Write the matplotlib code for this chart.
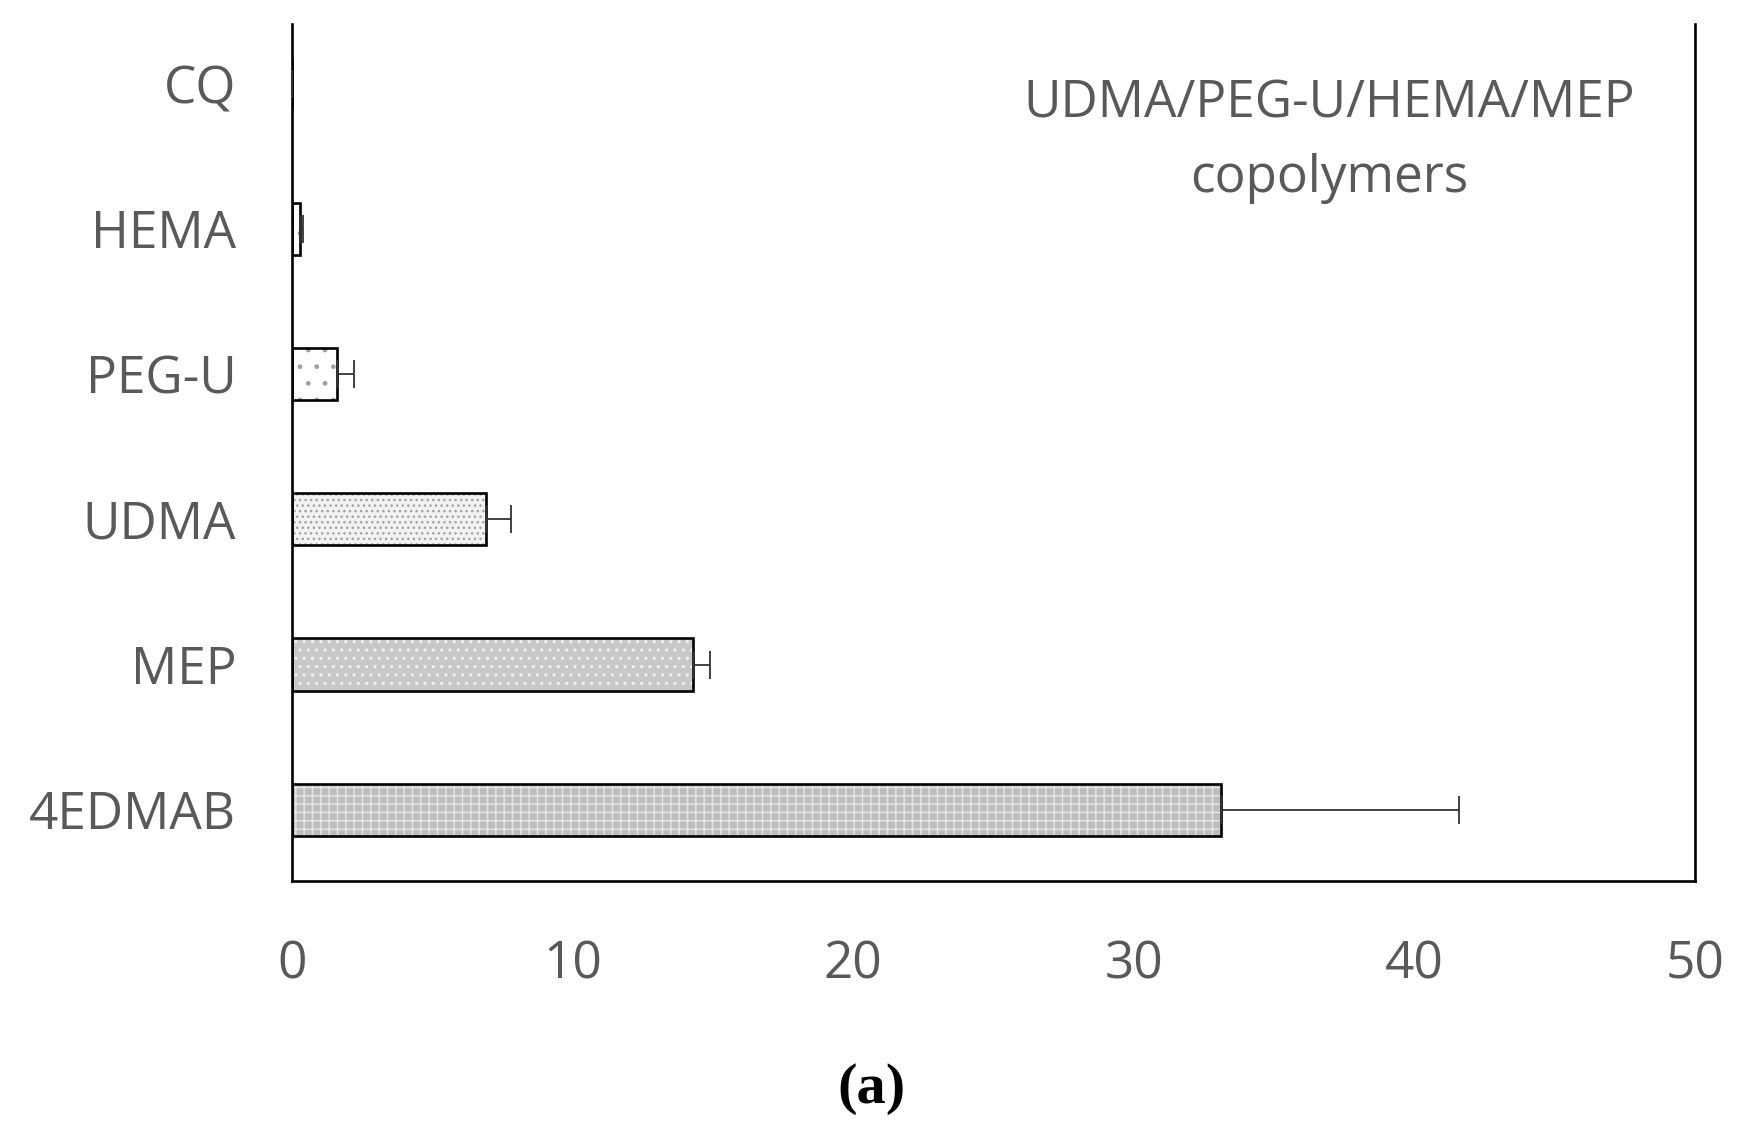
import matplotlib
matplotlib.use('Agg')
import matplotlib.pyplot as plt

# Data (top to bottom in the chart)
categories = ['CQ', 'HEMA', 'PEG-U', 'UDMA', 'MEP', '4EDMAB']
values = [0.0, 0.28, 1.6, 6.9, 14.3, 33.1]
errors = [0.0, 0.1, 0.6, 0.9, 0.6, 8.5]
x_ticks = [0, 10, 20, 30, 40, 50]

# Bar fills and hatch styles (Excel-like dotted patterns)
fills = ['white', 'white', 'white', '#f2f2f2', '#c8c8c8', '#bdbdbd']
hatch_colors = ['#9a9a9a', '#9a9a9a', '#a0a0a0', '#a0a0a0', '#f4f4f4', '#e6e6e6']
hatches = ['', '.', '.', '...', '..', '++']

plt.rcParams['hatch.linewidth'] = 1.0

fig = plt.figure(figsize=(17.47, 11.41), dpi=100)
ax = fig.add_axes([0.1671, 0.2279, 0.8031, 0.7511])

ypos = list(range(len(categories) - 1, -1, -1))

# patterned fill
ax.barh(ypos, values, height=0.36, color=fills, edgecolor=hatch_colors,
        hatch=hatches, linewidth=0, zorder=2)
# black outline
ax.barh(ypos, values, height=0.36, fill=False, edgecolor='black',
        linewidth=1.9, zorder=3)
# plus-only error bars
ax.errorbar(values, ypos, xerr=[[0] * len(errors), errors], fmt='none',
            ecolor='#333333', elinewidth=1.3, capsize=10, capthick=1.3, zorder=4)

ax.set_xlim(0, 50)
ax.set_ylim(-0.49, 5.41)
ax.set_xticks(x_ticks)
ax.set_yticks(ypos)
ax.set_yticklabels(categories)

for side in ['left', 'right', 'bottom']:
    ax.spines[side].set_linewidth(1.9)
    ax.spines[side].set_color('black')
ax.spines['top'].set_visible(False)

ax.tick_params(axis='both', length=0, labelsize=37, labelcolor='#595959')
ax.tick_params(axis='x', pad=42)
ax.tick_params(axis='y', pad=40)
for lbl in ax.get_xticklabels() + ax.get_yticklabels():
    lbl.set_fontfamily('Open Sans')

ax.text(0.739, 0.863, 'UDMA/PEG-U/HEMA/MEP\ncopolymers', transform=ax.transAxes,
        ha='center', va='center', fontsize=37, color='#595959',
        family='Open Sans', linespacing=1.62)

fig.text(872 / 1747, 1 - 1089 / 1141, '(a)', ha='center', va='center',
         fontsize=42, fontweight='bold', family='Liberation Serif')

fig.savefig('out.png', dpi=100)
